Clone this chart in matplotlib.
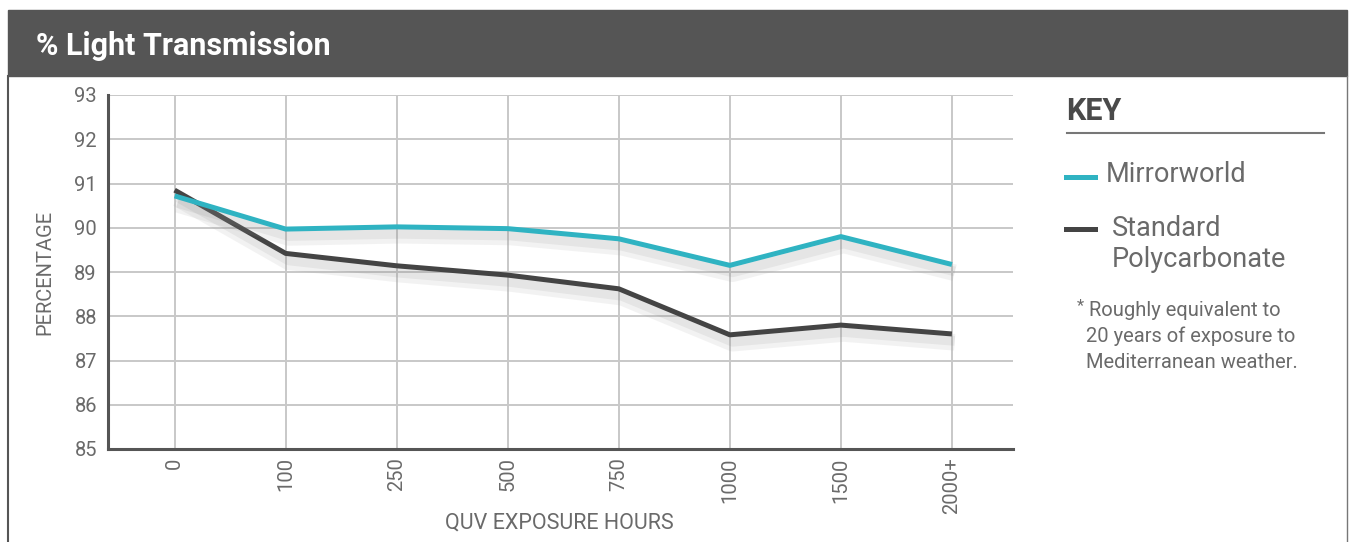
import matplotlib.pyplot as plt
import matplotlib.patheffects as pe
from matplotlib.patches import Rectangle
from matplotlib.lines import Line2D

# Data
hours = ["0", "100", "250", "500", "750", "1000", "1500", "2000+"]
mirrorworld = [90.72, 89.97, 90.02, 89.98, 89.75, 89.15, 89.80, 89.17]
standard_pc = [90.85, 89.42, 89.14, 88.93, 88.62, 87.58, 87.80, 87.60]
y_ticks = [85, 86, 87, 88, 89, 90, 91, 92, 93]
footnote = ["Roughly equivalent to", "20 years of exposure to", "Mediterranean weather."]

TEAL = "#2fb3c2"
DARK = "#444444"
GREY_TXT = "#6a6a6a"

plt.rcParams['font.family'] = ['Roboto', 'DejaVu Sans']

fig = plt.figure(figsize=(13.54, 5.42), dpi=100)
W, H = 1354, 542

def fx(px):
    return px / W

def fy(py):
    return 1 - py / H

# Header band + frame
fig.patches.append(Rectangle((fx(8), fy(76)), fx(1347) - fx(8), fy(10) - fy(76),
                             transform=fig.transFigure, color="#555555", zorder=0))
fig.text(fx(36), fy(46), "% Light Transmission", color="white", fontsize=22,
         fontweight="bold", va="center", ha="left")
fig.lines.append(Line2D([fx(8), fx(8)], [fy(76), 0], transform=fig.transFigure,
                        color="#555555", lw=1.5))
fig.lines.append(Line2D([fx(1347), fx(1347)], [fy(76), 0], transform=fig.transFigure,
                        color="#777777", lw=1))

# Main axes
ax = fig.add_axes([fx(108), fy(449), fx(1013) - fx(108), fy(95) - fy(449)])
x = list(range(len(hours)))

# soft drop shadow under the lines
shadow = [pe.SimpleLineShadow(offset=(2, -6), shadow_color="#999999", alpha=0.12, linewidth=12),
          pe.SimpleLineShadow(offset=(2, -5), shadow_color="#888888", alpha=0.12, linewidth=7),
          pe.Normal()]
ax.plot(x, standard_pc, color=DARK, lw=3.6, solid_joinstyle="round",
        solid_capstyle="butt", path_effects=shadow, zorder=3)
ax.plot(x, mirrorworld, color=TEAL, lw=3.6, solid_joinstyle="round",
        solid_capstyle="butt", path_effects=shadow, zorder=4)

ax.set_xlim(-0.6, 7.55)
ax.set_ylim(85, 93)
ax.set_yticks(y_ticks)
ax.set_xticks(x)
ax.set_xticklabels(hours, rotation=90, fontsize=14.5, color=GREY_TXT)
ax.set_yticklabels([str(v) for v in y_ticks], fontsize=14.5, color=GREY_TXT)
ax.tick_params(length=0, pad=8)
ax.tick_params(axis="x", pad=6)
ax.grid(True, color="#c8c8c8", lw=1.4)
ax.set_axisbelow(True)
for s in ["top", "right"]:
    ax.spines[s].set_visible(False)
for s in ["left", "bottom"]:
    ax.spines[s].set_color("#555555")
    ax.spines[s].set_linewidth(2.2)

fig.text(fx(45), fy(272), "PERCENTAGE", rotation=90, fontsize=14.5, color=GREY_TXT,
         ha="center", va="center")
fig.text(fx(559), fy(523), "QUV EXPOSURE HOURS", fontsize=15.5, color=GREY_TXT,
         ha="center", va="center")

# Key panel
fig.text(fx(1066), fy(111), "KEY", fontsize=22, fontweight="bold", color="#4a4a4a",
         ha="left", va="center")
fig.lines.append(Line2D([fx(1067), fx(1324)], [fy(133), fy(133)], transform=fig.transFigure,
                        color="#777777", lw=1.5))
fig.lines.append(Line2D([fx(1066), fx(1095)], [fy(177), fy(177)], transform=fig.transFigure,
                        color=TEAL, lw=3.6))
fig.text(fx(1106), fy(175), "Mirrorworld", fontsize=19.5, color=GREY_TXT,
         ha="left", va="center")
fig.lines.append(Line2D([fx(1066), fx(1095)], [fy(229), fy(229)], transform=fig.transFigure,
                        color=DARK, lw=3.6))
fig.text(fx(1112), fy(228), "Standard", fontsize=19.5, color=GREY_TXT,
         ha="left", va="center")
fig.text(fx(1112), fy(260), "Polycarbonate", fontsize=19.5, color=GREY_TXT,
         ha="left", va="center")
fig.text(fx(1077), fy(306), "*", fontsize=12, color=GREY_TXT, ha="left", va="center")
for i, line in enumerate(footnote):
    fig.text(fx(1089 if i == 0 else 1086), fy(310 + 26 * i), line, fontsize=14.5,
             color=GREY_TXT, ha="left", va="center")

fig.savefig("out.png", dpi=100)
